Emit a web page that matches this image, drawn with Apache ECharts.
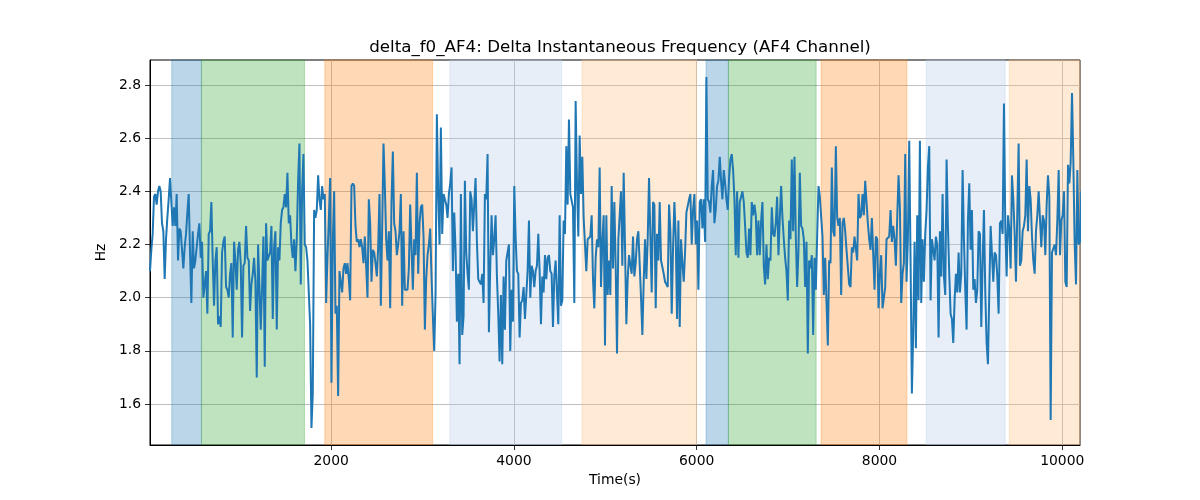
<!DOCTYPE html>
<html>
<head>
<meta charset="utf-8">
<script src="https://cdn.jsdelivr.net/npm/echarts@6/dist/echarts.min.js"></script>
<style>html,body{margin:0;padding:0;background:#fff}#c{width:1200px;height:500px}</style>
</head>
<body>
<div id="c"></div>
<script>
// ---- data ----
const titleText = "delta_f0_AF4: Delta Instantaneous Frequency (AF4 Channel)";
const xName = "Time(s)";
const yName = "Hz";
const startTime = 18;      // first sample (s)
const samplePeriod = 14.6; // seconds between samples
const xTicks = [2000, 4000, 6000, 8000, 10000];
const yTicks = [1.6, 1.8, 2.0, 2.2, 2.4, 2.6, 2.8];
const xRange = [18, 10194];
const yRange = [1.446, 2.894];

const seg1 = [2.10,2.18,2.24,2.38,2.39,2.35,2.40,2.42,2.40,2.28,2.25,2.07,2.22,2.30,2.37,2.45,2.36,2.27,2.34,2.27,
2.39,2.14,2.26,2.25,2.18,2.11,2.19,2.24,2.32,2.39,2.17,1.98,2.25,2.11,2.14,2.19,2.24,2.28,2.15,2.21,
2.00,2.05,2.10,1.94,2.24,2.25,2.36,2.14,1.97,2.14,2.19,1.90,1.93,1.89,2.17,2.21,2.23,2.04,2.03,2.00,
2.09,2.13,1.85,2.21,2.14,2.03,2.18,2.21,2.13,1.85,2.12,2.13,2.27,2.15,2.14,1.95,2.05,2.09,2.15,2.06,
1.70,2.20,2.04,1.88,2.04,2.23,1.74,2.28,2.14,2.14,2.17,2.27,1.92,2.19,2.25,1.88,2.19,2.14,2.28,2.33,
2.34,2.39,2.34,2.47,2.28,2.31,2.20,2.15,2.22,2.10,2.22,2.44,2.58,2.05,2.40,2.54,2.20,2.19,2.14,2.14,
1.90,1.51,1.64,2.33,2.30,2.33,2.46,2.37,2.33,2.42,2.37,2.39,1.98,2.15,2.29,2.45,1.68,2.21,2.40,1.94,
1.97,1.63,2.10,2.10,2.02,2.11,2.13,2.09,2.13,2.07,1.99,2.42,2.43,2.42,2.27,2.21,2.22,2.19,2.22,2.19,
2.13,2.23,2.12,2.00,2.37,2.28,2.06,2.18,2.17,2.13,2.08,2.19,2.39,1.97,2.26,2.58];

const seg2 = [2.42,2.22,2.14,2.25,1.96,2.36,2.55,2.28,2.25,2.16,2.20,2.25,2.39,1.97,2.25,2.03,2.03,2.03,2.11,2.35,
2.35,2.03,2.22,2.16,2.47,2.09,2.28,2.34,2.35,2.23,1.88,2.07,2.16,2.20,2.26,2.08,1.93,1.80,2.01,2.69,
2.39,2.20,2.64,2.24,2.39,2.39,2.35,2.30,2.39,2.43,2.49,2.10,2.32,2.18,1.91,2.09,1.75,2.39,1.86,1.93,
2.44,2.17,2.09,2.03,2.40,2.37,2.25,2.35,2.45,2.21,2.07,2.06,2.05,2.09,1.98,2.39,2.37,2.54,1.87,2.12,
2.31,2.16,2.22,2.31,2.08,1.94,1.76,2.01,1.75,2.08,1.88,2.14,2.14,2.20,1.80,2.03,1.91,2.42,2.23,2.10,
2.09,1.85,1.98,1.99,2.04,1.92,2.01,2.10,2.29,2.00,2.12,2.10,2.04,2.10,2.12,2.24,2.10,1.90,2.08,2.02,
2.16,2.07,2.15,2.16,2.10,2.09,1.89,2.08,2.14,2.14,1.90,2.31,1.97,1.99,2.29,2.24,2.57,2.35,2.67,2.39,
2.39,2.34,1.98,2.74,2.43,2.23,2.61,2.39,2.53,2.30,2.20,2.10,2.22,2.22,2.23,2.31,2.07,1.96,2.15,2.22,
2.19,2.49,2.04,2.21,2.31,1.82,2.31,2.01,2.14,2.01,2.42,2.11,2.36,2.12,1.79,2.22,2.22];

const seg3 = [2.40,2.12,2.47,2.19,1.90,2.07,2.16,2.16,2.09,2.23,2.08,2.13,2.22,2.25,2.25,2.00,1.86,2.06,2.22,2.07,
2.22,2.45,2.45,2.02,2.36,2.35,1.96,2.24,2.14,2.36,2.14,2.14,2.09,2.06,2.05,2.04,2.35,2.25,1.94,2.19,
2.36,2.23,1.92,2.29,1.89,2.22,2.13,2.06,2.17,2.32,2.32,2.37,2.39,2.20,2.33,2.39,2.20,2.29,2.03,2.36,
2.37,2.26,2.37,2.21,2.83,2.37,2.36,2.32,2.42,2.48,2.28,2.33,2.42,2.44,2.53,2.44,2.37,2.48,2.43,2.37,
2.33,2.45,2.52,2.54,2.48,2.37,2.16,2.40,2.15,2.36,2.38,2.40,2.36,2.27,2.17,2.15,2.26,2.16,2.36,2.31,
2.35,2.31,2.16,2.29,2.16,2.29,2.36,2.12,2.05,2.20,2.07,2.15,2.14,2.34,2.24,2.23,2.28,2.38,2.16,2.30,
2.42,2.30,2.22,2.15,2.10,1.99,2.29,2.22,2.52,2.25,2.53,2.23,2.04,2.18,2.47,2.27,2.26,2.22,2.04,2.21,
1.79,2.14,2.11,2.16,1.86,2.15,2.03,2.23,2.42,2.38,2.38,2.23,2.01,2.15,2.15,1.82,2.14,2.13,2.49,2.25,
2.23,2.57,2.30,2.27,2.30,2.01,2.28,2.30,2.25,2.18,2.18,2.05];

const seg4 = [2.04,2.19,2.17,2.23,2.23,2.14,2.39,2.30,2.31,2.39,2.31,2.44,2.36,2.28,2.22,2.18,2.30,2.30,2.03,2.23,
2.22,1.96,2.09,2.16,1.96,1.96,2.04,2.22,2.22,2.23,2.33,2.21,2.27,2.22,2.12,2.30,2.46,2.34,1.98,2.09,
2.13,2.54,2.06,2.22,2.59,2.14,1.64,1.87,2.21,1.81,2.31,1.99,2.59,1.98,2.22,2.06,2.24,2.33,2.49,2.57,
1.99,2.22,2.18,2.14,2.23,2.20,1.85,2.25,2.08,2.39,2.08,2.01,2.52,2.27,2.09,1.94,1.92,1.83,1.99,2.09,
2.02,2.17,2.02,2.09,2.48,2.22,2.03,1.88,2.29,2.43,2.18,2.33,2.03,2.07,1.98,2.03,2.25,2.24,1.89,2.13,
2.33,2.02,1.83,1.75,2.02,2.27,2.27,2.06,2.17,2.16,2.08,1.94,2.28,2.29,2.24,2.73,2.27,2.08,2.31,2.26,
2.11,2.46,2.37,2.24,2.06,2.32,2.58,2.12,2.14,2.25,2.27,2.31,2.52,2.25,2.42,2.37,2.23,2.14,2.09,2.25,
2.31,2.40,2.40,2.19,2.31,2.29,2.16,2.35,2.46,2.38,1.54,2.17,2.17,2.20,2.16,2.29,2.48,2.16,2.29,2.31,
2.40,2.06,2.04,2.50,2.43,2.51,2.77,2.51,2.20,2.05,2.48,2.20,2.21,2.40];

// shaded phases: [start, end, colour index]
const phaseStarts = [256, 581, 1931, 3299, 4745, 6102, 6347, 7361, 8511, 9420];
const phaseEnds   = [581, 1708, 3110, 4522, 5996, 6347, 7307, 8300, 9376, 10194];
const phaseColorIdx = [0, 1, 2, 3, 4, 0, 1, 2, 3, 4];
const phaseColors = ['31,119,180', '44,160,44', '255,127,14', '174,199,232', '255,187,120'];

// ---- build ----
const values = seg1.concat(seg2, seg3, seg4);
const lineData = values.map((v, i) => [startTime + i * samplePeriod, v]);

const areas = phaseStarts.map((s, i) => {
  const c = phaseColors[phaseColorIdx[i]];
  return [
    { xAxis: s, itemStyle: { color: 'rgba(' + c + ',0.3)', borderColor: 'rgba(' + c + ',0.3)', borderWidth: 1 } },
    { xAxis: phaseEnds[i] }
  ];
});

const font = 'DejaVu Sans';
const chart = echarts.init(document.getElementById('c'), null, { renderer: 'canvas' });
chart.setOption({
  animation: false,
  backgroundColor: '#fff',
  title: {
    text: titleText,
    left: 615, top: 34, textAlign: 'center',
    textStyle: { fontFamily: font, fontSize: 16.7, fontWeight: 'normal', color: '#000' }
  },
  grid: { left: 150, right: 120, top: 60, bottom: 55, show: true, borderColor: '#000', borderWidth: 1, backgroundColor: 'transparent' },
  xAxis: {
    type: 'value', min: xRange[0], max: xRange[1], z: 1,
    name: xName, nameLocation: 'middle', nameGap: 27,
    nameTextStyle: { fontFamily: font, fontSize: 13.9, color: '#000' },
    axisLine: { show: true, onZero: false, lineStyle: { color: '#000', width: 1 } },
    axisTick: { show: true, length: 5, customValues: xTicks, lineStyle: { color: '#000', width: 0.8 } },
    axisLabel: { customValues: xTicks, margin: 9, fontFamily: font, fontSize: 13.9, color: '#000',
      formatter: v => String(Math.round(v)) },
    splitLine: { show: true, lineStyle: { color: '#b0b0b0', width: 0.8 } }
  },
  yAxis: {
    type: 'value', min: yRange[0], max: yRange[1], z: 1,
    name: yName, nameLocation: 'middle', nameGap: 31, nameRotate: 90,
    nameTextStyle: { fontFamily: font, fontSize: 13.9, color: '#000' },
    axisLine: { show: true, onZero: false, lineStyle: { color: '#000', width: 1 } },
    axisTick: { show: true, length: 5, customValues: yTicks, lineStyle: { color: '#000', width: 0.8 } },
    axisLabel: { customValues: yTicks, margin: 9, fontFamily: font, fontSize: 13.9, color: '#000',
      formatter: v => v.toFixed(1) },
    splitLine: { show: true, lineStyle: { color: '#b0b0b0', width: 0.8 } }
  },
  series: [
    {
      type: 'line', z: 0, data: [], silent: true,
      markArea: { silent: true, data: areas }
    },
    {
      type: 'line', z: 2, data: lineData, showSymbol: false, symbol: 'none', clip: true,
      lineStyle: { color: '#1f77b4', width: 2 }
    }
  ]
});
</script>
</body>
</html>
